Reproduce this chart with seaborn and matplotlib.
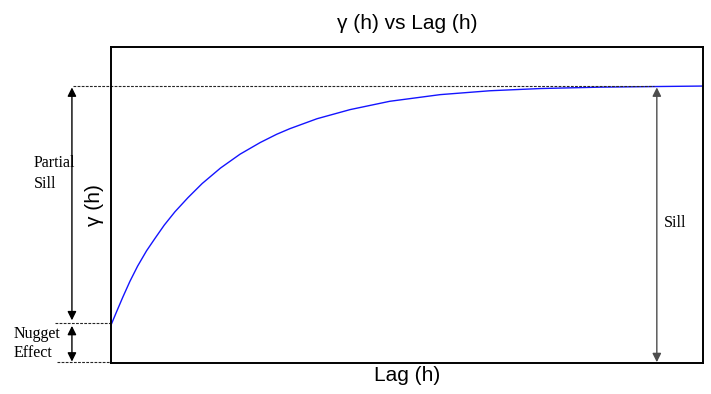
import matplotlib
matplotlib.use("Agg")
import matplotlib.pyplot as plt
import seaborn as sns
import pandas as pd

# values (lag in % of axis, gamma normalised to sill = 1)
lag = [0, 1.0, 2.0, 3.2, 4.5, 6.0, 7.4, 9.0, 10.8, 13.0, 15.4, 18.5, 21.8, 25.2, 28.0,
       30.2, 34.8, 40.4, 47.1, 55.6, 64.0, 72.5, 82.6, 91.0, 100]
gamma = [0.137, 0.188, 0.238, 0.295, 0.350, 0.405, 0.449, 0.498, 0.546, 0.597, 0.648,
         0.704, 0.754, 0.796, 0.826, 0.846, 0.882, 0.915, 0.945, 0.969, 0.983, 0.991,
         0.996, 0.998, 1.0]
nugget = 0.144
sill = 1.0
sill_arrow_x = 92.2
left_arrow_x = -6.6

df = pd.DataFrame({"lag": lag, "gamma": gamma})

sns.set_style("white")
plt.rcParams["font.family"] = ["Liberation Sans", "DejaVu Sans"]
plt.rcParams["text.color"] = "black"
plt.rcParams["axes.labelcolor"] = "black"

fig = plt.figure(figsize=(7.11, 3.94), dpi=100)
ax = fig.add_axes([111 / 711, 31 / 394, 592 / 711, 316 / 394])

sns.lineplot(data=df, x="lag", y="gamma", ax=ax, color="#1414ff", linewidth=1.0)

ax.set_xlim(0, 100)
ax.set_ylim(0, 1.141)
ax.set_xticks([])
ax.set_yticks([])
for s in ax.spines.values():
    s.set_color("black")
    s.set_linewidth(1.4)

ax.set_title("\u03b3 (h) vs Lag (h)", fontsize=15, pad=13)
ax.set_xlabel("Lag (h)", fontsize=15, labelpad=2)
ax.set_ylabel("\u03b3 (h)", fontsize=15, labelpad=5)

# reference dashed lines
dash = dict(color="0.15", linestyle=(0, (2.5, 1.2)), linewidth=0.8, clip_on=False)
ax.plot([-6.4, 91.8], [sill, sill], **dash)
ax.plot([-9.5, 0], [nugget, nugget], **dash)
ax.plot([-9.2, 0], [0.003, 0.003], **dash)

arrow = dict(arrowstyle="<|-|>", color="black", lw=1.0, mutation_scale=13,
             shrinkA=0, shrinkB=0)
ax.annotate("", xy=(left_arrow_x, sill - 0.005), xytext=(left_arrow_x, nugget + 0.01),
            arrowprops=arrow, annotation_clip=False)
ax.annotate("", xy=(left_arrow_x, nugget - 0.01), xytext=(left_arrow_x, 0.005),
            arrowprops=arrow, annotation_clip=False)
ax.annotate("", xy=(sill_arrow_x, sill - 0.005), xytext=(sill_arrow_x, 0.003),
            arrowprops=dict(arrow, color="0.3"), annotation_clip=False)

serif = ["Liberation Serif", "DejaVu Serif"]
ax.text(-13.1, 0.684, "Partial\nSill", family=serif, fontsize=11.5, ha="left", va="center",
        linespacing=1.45, clip_on=False)
ax.text(-16.5, 0.07, "Nugget\nEffect", family=serif, fontsize=11.5, ha="left", va="center",
        linespacing=1.3, clip_on=False)
ax.text(93.4, 0.505, "Sill", family=serif, fontsize=11.5, ha="left", va="center")

fig.savefig("out.png", dpi=100)
